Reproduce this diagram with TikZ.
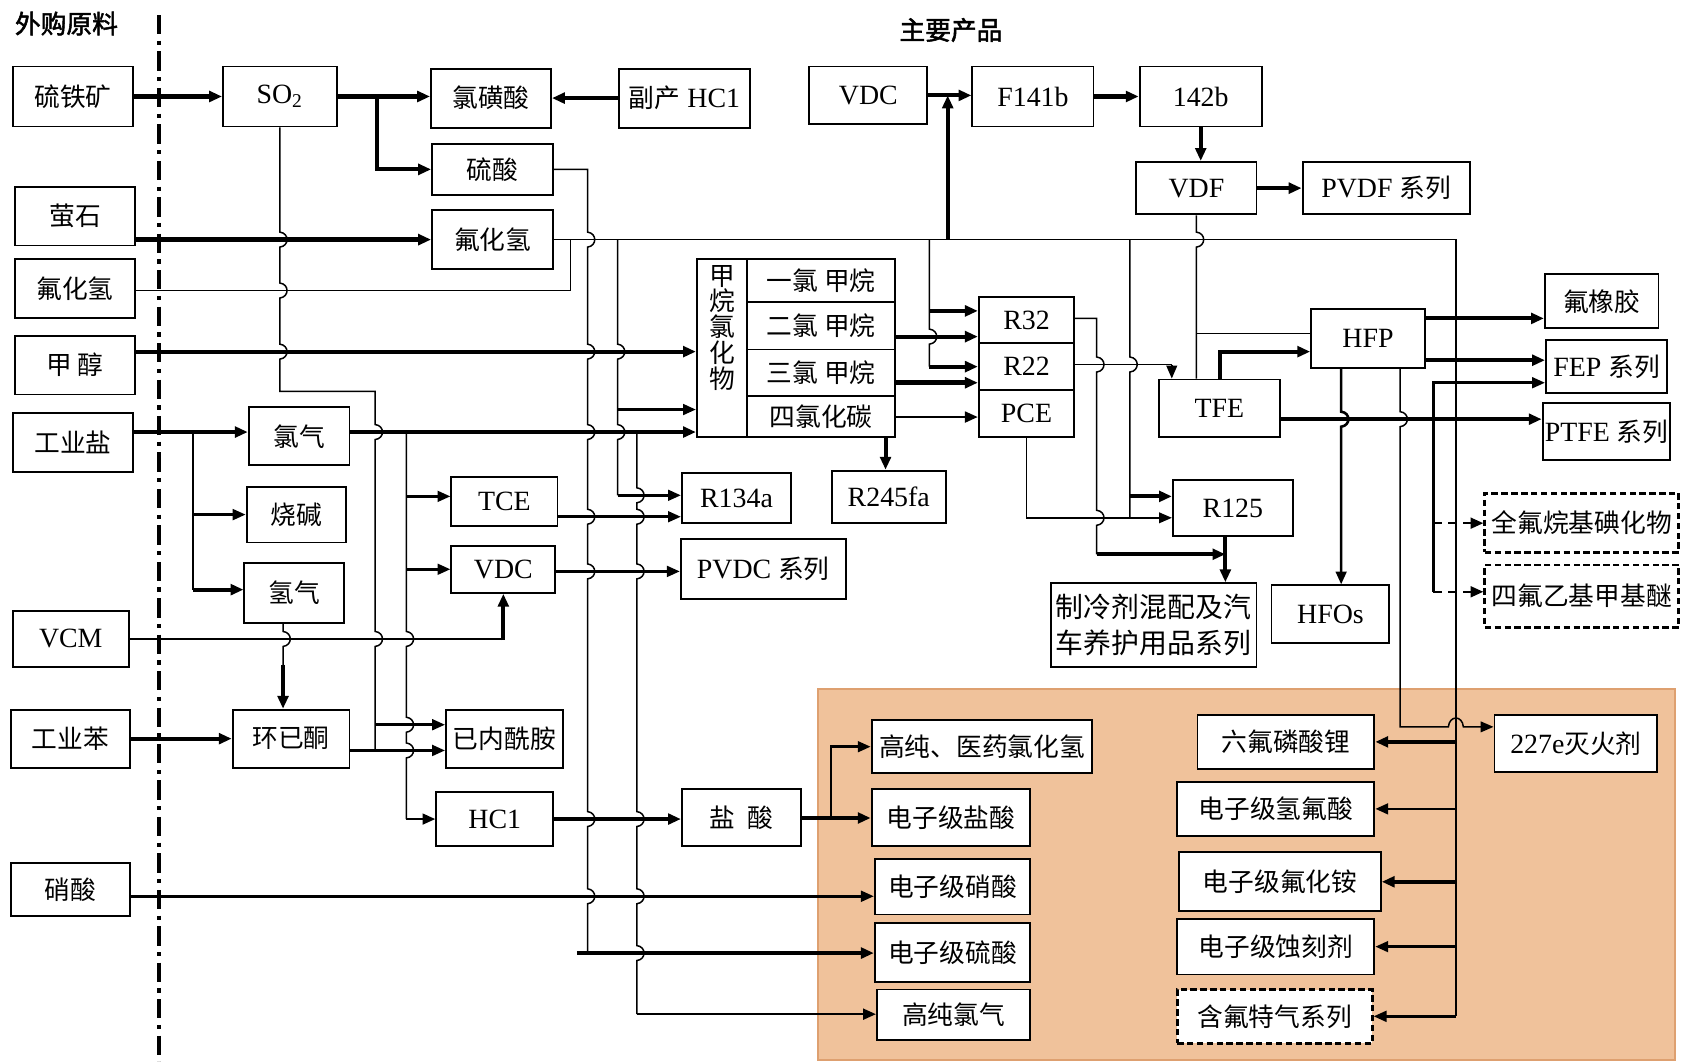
\documentclass[tikz,border=0pt]{standalone}
\usepackage{fontspec}
\setmainfont{Liberation Serif}
\newfontfamily\cjk{Noto Sans CJK SC}
\newfontfamily\cjkb[FakeBold=2]{Noto Sans CJK SC}
\usetikzlibrary{arrows.meta}
\newcommand\zh[1]{{\cjk\fontsize{12}{14}\selectfont #1}}
\definecolor{panelfill}{RGB}{240,194,155}
\definecolor{paneledge}{RGB}{222,160,112}
\tikzset{
  box/.style={draw,fill=white,line width=0.9pt,inner sep=1pt,font=\fontsize{13}{15}\selectfont},
  dbox/.style={box,dash pattern=on 3pt off 1.6pt,line width=1.3pt},
  ln/.style={line width=0.7pt},
  md/.style={line width=1.2pt},
  tk/.style={line width=1.9pt},
  xtk/.style={line width=2.5pt},
  ar/.style={-{Triangle[length=6pt,width=5pt]}},
  vb/.style 2 args={insert path={-- (#1,#2-7) .. controls +(9,1) and +(9,-1) .. (#1,#2+7)}},
  hb/.style 2 args={insert path={-- (#1-7,#2) .. controls +(1,-11) and +(-1,-11) .. (#1+7,#2)}},
  sep/.style={line width=1.8pt,dash pattern=on 9pt off 3pt on 2pt off 3pt},
  ttl/.style={font=\cjkb\fontsize{12}{14}\selectfont,inner sep=0pt}
}
\newcommand\bxn[7][]{\node[box,#1,minimum width={(#5-#3)*0.5pt},minimum height={(#6-#4)*0.5pt}] (#2) at ({(#3+#5)/2},{(#4+#6)/2}) {#7};}
\begin{document}
\begin{tikzpicture}[x=0.5pt,y=-0.5pt]
\useasboundingbox (0,0) rectangle (1568,990);
% panel
\bxn[fill=panelfill,draw=paneledge,line width=1pt]{pan}{763}{643}{1562}{989}{}
% titles and separator
\node[ttl] (t1) at (62,22) {外购原料};
\node[ttl] (t2) at (887,28) {主要产品};
\draw[sep] (148,14) coordinate (s1) -- (148,990) coordinate (s2);
% left raw materials
\bxn{l1}{12}{62}{124}{118}{\zh{硫铁矿}}
\bxn{l2}{14}{174}{126}{229}{\zh{萤石}}
\bxn{l3}{14}{242}{126}{297}{\zh{氟化氢}}
\bxn{l4}{14}{313}{126}{368}{\zh{甲\ 醇}}
\bxn{l5}{12}{385}{124}{440}{\zh{工业盐}}
\bxn{l6}{12}{570}{120}{622}{VCM}
\bxn{l7}{10}{662}{121}{716}{\zh{工业苯}}
\bxn{l8}{10}{805}{121}{854}{\zh{硝酸}}
% top row
\bxn{so2}{208}{62}{314}{118}{SO\textsubscript{2}}
\bxn{csa}{402}{64}{514}{119}{\zh{氯磺酸}}
\bxn{fbhcl}{577}{64}{700}{119}{\zh{副产} HC1}
\bxn{vdct}{755}{62}{865}{116}{VDC}
\bxn{f141}{907}{62}{1020}{118}{F141b}
\bxn{b142}{1063}{62}{1177}{118}{142b}
\bxn{h2so4}{403}{134}{516}{182}{\zh{硫酸}}
\bxn{vdf}{1060}{151}{1172}{200}{VDF}
\bxn{pvdf}{1215}{151}{1371}{200}{PVDF \zh{系列}}
\bxn{hf}{403}{196}{516}{251}{\zh{氟化氢}}
% methane chlorides
\bxn{ch0}{650}{242}{697}{408}{}
\node[font=\cjk\fontsize{12}{14}\selectfont,align=center,inner sep=0pt,anchor=north] (chl) at (673.5,247) {甲\\[-2pt]烷\\[-2pt]氯\\[-2pt]化\\[-2pt]物};
\bxn{ch1}{697}{242}{835}{282}{\zh{一氯 甲烷}}
\bxn{ch2}{697}{282}{835}{326}{\zh{二氯 甲烷}}
\bxn{ch3}{697}{326}{835}{369}{\zh{三氯 甲烷}}
\bxn{ch4}{697}{369}{835}{408}{\zh{四氯化碳}}
\bxn{r32}{913}{277}{1002}{320}{R32}
\bxn{r22}{913}{320}{1002}{364}{R22}
\bxn{pce}{913}{364}{1002}{408}{PCE}
\bxn{hfp}{1223}{288}{1329}{343}{HFP}
\bxn{fkm}{1441}{256}{1547}{306}{\zh{氟橡胶}}
\bxn{fep}{1442}{317}{1555}{367}{FEP \zh{系列}}
\bxn{tfe}{1081}{354}{1194}{408}{TFE}
\bxn{ptfe}{1442}{376}{1555}{429}{PTFE \zh{系列}}
% middle left
\bxn{cl2}{232}{380}{326}{434}{\zh{氯气}}
\bxn{naoh}{230}{454}{323}{506}{\zh{烧碱}}
\bxn{h2}{228}{525}{321}{581}{\zh{氢气}}
\bxn{tce}{421}{445}{520}{491}{TCE}
\bxn{vdcm}{421}{509}{518}{553}{VDC}
\bxn{r134a}{636}{441}{738}{488}{R134a}
\bxn{r245fa}{776}{439}{882}{488}{R245fa}
\bxn{pvdc}{635}{503}{789}{559}{PVDC \zh{系列}}
\bxn{r125}{1094}{448}{1206}{500}{R125}
\bxn[dbox]{pfai}{1385}{460}{1566}{515}{\zh{全氟烷基碘化物}}
\bxn[dbox]{tfme}{1385}{527}{1566}{585}{\zh{四氟乙基甲基醚}}
\bxn[align=left,font=\cjk\fontsize{13}{17}\selectfont]{mix}{980}{544}{1172}{622}{制冷剂混配及汽\\车养护用品系列}
\bxn{hfos}{1186}{546}{1296}{600}{HFOs}
\bxn{chx}{217}{662}{326}{716}{\zh{环已酮}}
\bxn{cpl}{416}{662}{525}{716}{\zh{已内酰胺}}
\bxn{hcl}{407}{739}{516}{789}{HC1}
\bxn{hclaq}{636}{736}{747}{789}{\zh{盐\ \ 酸}}
% panel boxes
\bxn{hphcl}{813}{672}{1019}{721}{\zh{高纯、医药氯化氢}}
\bxn{ehcl}{813}{736}{961}{789}{\zh{电子级盐酸}}
\bxn{ehno3}{816}{801}{961}{853}{\zh{电子级硝酸}}
\bxn{eh2so4}{816}{861}{961}{916}{\zh{电子级硫酸}}
\bxn{hpcl2}{818}{923}{961}{970}{\zh{高纯氯气}}
\bxn{lipf6}{1117}{667}{1282}{717}{\zh{六氟磷酸锂}}
\bxn{ehf}{1098}{729}{1282}{780}{\zh{电子级氢氟酸}}
\bxn{enh4f}{1100}{795}{1288}{850}{\zh{电子级氟化铵}}
\bxn{eetch}{1098}{857}{1282}{909}{\zh{电子级蚀刻剂}}
\bxn[dbox]{fgas}{1098}{923}{1280}{973}{\zh{含氟特气系列}}
\bxn{f227}{1394}{667}{1546}{720}{227e\zh{灭火剂}}
% ---------- connectors ----------
% sulphur chain
\draw[tk,ar] (l1) -- (so2);
\draw[tk,ar] (so2.east) -- (csa.west |- so2.east);
\draw[tk,ar] (352,90) |- (h2so4.west);
\draw[tk,ar] (fbhcl.west) -- (csa.east |- fbhcl.west);
% SO2 bus to caprolactam
\draw[ln] (so2.south) [vb={261}{223.5}] [vb={261}{271}] [vb={261}{328}] -- (261,365) -- (350,365) [vb={350}{403}] [vb={350}{596}] -- (350,700);
\draw[md,ar] (350,676) -- (cpl.west |- 0,676);
% sulphuric acid bus
\draw[ln] (h2so4.east) -- (548,158) [vb={548}{223.5}] [vb={548}{328}] [vb={548}{403}] [vb={548}{482}] [vb={548}{533}] [vb={548}{764}] [vb={548}{836}] -- (548,889);
\draw[tk,ar] (538,889) -- (eh2so4.west |- 0,889);
% fluorspar -> HF
\draw[xtk,ar] (l2.east |- hf.west) -- (hf.west);
\draw[ln] (l3.east |- 0,271) -- (532,271) -- (532,223.5);
% HF main bus
\draw[ln] (hf.east) -- (1358,223.5) -- (1358,948);
\draw[tk,ar] (884,223.5) -- (884,89);
\draw[ln] (576,223.5) [vb={576}{328}] -- (576,382) [vb={576}{403}] -- (576,462);
\draw[md,ar] (576,382) -- (ch0.west |- 0,382);
\draw[md,ar] (576,462) -- (r134a.west |- 0,462);
\draw[ln] (867,223.5) -- (867,290) [vb={867}{314}] -- (867,342);
\draw[tk,ar] (867,290) -- (r32.west |- 0,290);
\draw[tk,ar] (867,342) -- (r22.west |- 0,342);
\draw[ln] (1054,223.5) [vb={1054}{340}] -- (1054,483);
\draw[tk,ar] (1054,463) -- (r125.west |- 0,463);
\draw[tk,ar] (1358,692) -- (lipf6.east);
\draw[md,ar] (1358,754.5) -- (ehf.east);
\draw[tk,ar] (1358,822.5) -- (enh4f.east);
\draw[md,ar] (1358,883) -- (eetch.east);
\draw[md,ar] (1358,948) -- (fgas.east);
% VDC / F141b / 142b / VDF
\draw[tk,ar] (vdct.east) -- (f141.west |- vdct.east);
\draw[tk,ar] (f141) -- (b142);
\draw[tk,ar] (b142.south) -- (b142.south |- vdf.north);
\draw[tk,ar] (vdf) -- (pvdf);
\draw[ln] (vdf.south) [vb={1116}{223.5}] -- (tfe.north -| 1116,0);
\draw[ln] (1116,311) -- (hfp.west |- 0,311);
% methanol, salt, chlorine
\draw[tk,ar] (l4.east |- 0,328) -- (ch0.west |- 0,328);
\draw[tk,ar] (l5.east |- 0,403) -- (cl2.west |- 0,403);
\draw[md] (180,403) -- (180,550);
\draw[md,ar] (180,480) -- (naoh.west);
\draw[tk,ar] (180,550) -- (h2.west |- 0,550);
\draw[tk,ar] (cl2.east |- 0,403) -- (ch0.west |- 0,403);
\draw[ln] (379,403) [vb={379}{596}] [vb={379}{676}] [vb={379}{700}] -- (379,764);
\draw[md,ar] (379,463) -- (tce.west |- 0,463);
\draw[md,ar] (379,531) -- (vdcm.west);
\draw[md,ar] (379,764) -- (hcl.west);
\draw[ln] (594,403) [vb={594}{462}] [vb={594}{482}] [vb={594}{533}] [vb={594}{764}] [vb={594}{836}] [vb={594}{889}] -- (594,946);
\draw[md,ar] (594,946) -- (hpcl2.west |- 0,946);
\draw[md,ar] (tce.east |- 0,482) -- (r134a.west |- 0,482);
\draw[md,ar] (vdcm.east |- 0,533) -- (pvdc.west |- 0,533);
\draw[ln] (l6.east) -- (469.5,596);
\draw[tk,ar] (469.5,597) -- (vdcm.south);
\draw[ln] (h2.south -| 264,0) [vb={264}{596}] -- (264,622);
\draw[tk,ar] (264,620) -- (chx.north -| 264,0);
\draw[tk,ar] (l7) -- (chx);
\draw[md,ar] (chx.east |- 0,700) -- (cpl.west |- 0,700);
% hydrochloric acid
\draw[tk,ar] (hcl.east) -- (hclaq.west |- hcl.east);
\draw[tk,ar] (hclaq.east |- 0,763) -- (ehcl.west |- 0,763);
\draw[md,ar] (775,763) |- (hphcl.west);
\draw[md,ar] (l8.east |- 0,836) -- (ehno3.west |- 0,836);
% methane chlorides outputs
\draw[tk,ar] (ch2.east |- 0,314) -- (r32.west |- 0,314);
\draw[xtk,ar] (ch3.east |- 0,357) -- (r22.west |- 0,357);
\draw[md,ar] (ch4.east |- 0,389) -- (pce.west |- 0,389);
\draw[tk,ar] (ch4.south -| 826,0) -- (r245fa.north -| 826,0);
% R22 / R32 / PCE / R125
\draw[ln] (r22.east |- 0,340) -- (1093,340);
\draw[ln,ar] (1093,340) -- (tfe.north -| 1093,0);
\draw[ln] (r32.east |- 0,297) -- (1023,297) [vb={1023}{340}] [vb={1023}{483}] -- (1023,517);
\draw[tk,ar] (1023,517) -- (1143,517);
\draw[ln,ar] (pce.south) |- (r125.west |- 0,483);
\draw[tk,ar] (r125.south -| 1143,0) -- (mix.north -| 1143,0);
% TFE / HFP
\draw[tk,ar] (tfe.north -| 1138,0) |- (hfp.west |- 0,328);
\draw[tk,ar] (hfp.east |- 0,297) -- (fkm.west |- 0,297);
\draw[tk,ar] (hfp.east |- 0,336) -- (fep.west |- 0,336);
\draw[tk,ar] (tfe.east |- 0,391) -- (ptfe.west |- 0,391);
\draw[md,ar] (1337,391) |- (fep.west |- 0,357);
\draw[md] (1337,391) -- (1337,552);
\draw[md,dash pattern=on 4pt off 3pt,ar] (1337,488) -- (pfai.west |- 0,488);
\draw[md,dash pattern=on 4pt off 3pt,ar] (1337,552) -- (tfme.west |- 0,552);
\draw[md,ar] (hfp.south -| 1251,0) [vb={1251}{391}] -- (hfos.north -| 1251,0);
\draw[ln,ar] (hfp.south -| 1306,0) [vb={1306}{391}] -- (1306,678) [hb={1358}{678}] -- (f227.west |- 0,678);
\end{tikzpicture}
\end{document}
